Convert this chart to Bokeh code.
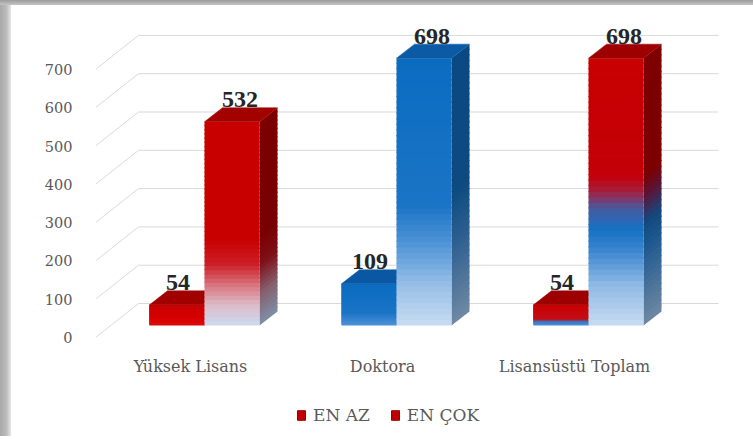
import numpy as np
from bokeh.plotting import figure
from bokeh.layouts import column, row
from bokeh.models import Range1d, FixedTicker, Legend, LegendItem, Div
from bokeh.embed import file_html
from bokeh.resources import INLINE
from bokeh.core.properties import value

# ---------------- data ----------------
categories = ["Yüksek Lisans", "Doktora", "Lisansüstü Toplam"]
series_names = ["EN AZ", "EN ÇOK"]
en_az = [54, 109, 54]
en_cok = [532, 698, 698]
y_ticks = [0, 100, 200, 300, 400, 500, 600, 700]

# ---------------- geometry (pixels) ----------------
TOTAL_W, TOTAL_H = 753, 436
OX, OY = 11, 5                 # gray page band left / top
W = TOTAL_W - OX
H_MAIN = 380
H_LEG = TOTAL_H - OY - H_MAIN
PX_PER_VAL = 0.383
PX_PER_CAT = 192.0
ZERO_X, ZERO_Y = 190.0 - OX, 337.0 - OY   # canvas px of category 0 / value 0 on label plane
FL, FR, FT, FB = 95 - OX, 745 - OX, 0, 345 - OY

def dx(px):
    return px / PX_PER_CAT

def dy(px):
    return px / PX_PER_VAL

FRONT_DX, FRONT_DY = dx(14), dy(12)   # bar front plane offset from label plane
DEPTH_DX, DEPTH_DY = dx(18), dy(14)   # bar depth
BACK_DX, BACK_DY = dx(43), dy(34)     # back wall offset
BW = dx(55)                            # bar width
WALL_L = (FL - ZERO_X) / PX_PER_CAT
WALL_R = WALL_L + dx(580)

x_range = Range1d((FL - ZERO_X) / PX_PER_CAT, (FR - ZERO_X) / PX_PER_CAT)
y_range = Range1d((ZERO_Y - FB) / PX_PER_VAL, (ZERO_Y - FT) / PX_PER_VAL)

p_main = figure(width=W, height=H_MAIN, x_range=x_range, y_range=y_range,
                min_border_left=FL, min_border_right=W - FR, min_border_top=FT,
                min_border_bottom=H_MAIN - FB, output_backend="svg", toolbar_location=None)
p_main.background_fill_color = "white"
p_main.border_fill_color = "white"
p_main.outline_line_color = None
p_main.xgrid.visible = False
p_main.ygrid.visible = False

# ---------------- axes ----------------
p_main.yaxis.ticker = FixedTicker(ticks=y_ticks)
p_main.yaxis.axis_line_color = None
p_main.yaxis.major_tick_line_color = None
p_main.yaxis.minor_tick_line_color = None
p_main.yaxis.major_label_standoff = 17
p_main.yaxis.major_label_text_font = "DejaVu Serif"
p_main.yaxis.major_label_text_font_size = "14.5px"
p_main.yaxis.major_label_text_color = "#595959"

p_main.xaxis.ticker = FixedTicker(ticks=list(range(len(categories))))
p_main.xaxis.major_label_overrides = {i: c for i, c in enumerate(categories)}
p_main.xaxis.axis_line_color = None
p_main.xaxis.major_tick_line_color = None
p_main.xaxis.minor_tick_line_color = None
p_main.xaxis.major_label_standoff = 5
p_main.xaxis.major_label_text_font = "DejaVu Serif"
p_main.xaxis.major_label_text_font_size = "16px"
p_main.xaxis.major_label_text_color = "#595959"

# ---------------- walls / gridlines ----------------
gx0, gy0, gx1, gy1 = [], [], [], []
for v in y_ticks:
    gx0.append(WALL_L); gy0.append(v); gx1.append(WALL_L + BACK_DX); gy1.append(v + BACK_DY)
    gx0.append(WALL_L + BACK_DX); gy0.append(v + BACK_DY); gx1.append(WALL_R + BACK_DX); gy1.append(v + BACK_DY)
p_main.segment(x0=gx0, y0=gy0, x1=gx1, y1=gy1, line_color="#d9d9d9", line_width=1)

# ---------------- colour helpers ----------------
def hex2rgb(h):
    h = h.lstrip("#")
    return np.array([int(h[i:i + 2], 16) for i in (0, 2, 4)], dtype=float)

def grad(stops, t):
    pos = [s[0] for s in stops]
    cols = [hex2rgb(s[1]) for s in stops]
    c = cols[-1]
    if t <= pos[0]:
        c = cols[0]
    else:
        for k in range(len(pos) - 1):
            if pos[k] <= t <= pos[k + 1]:
                f = (t - pos[k]) / (pos[k + 1] - pos[k])
                c = cols[k] * (1 - f) + cols[k + 1] * f
                break
    return "#%02x%02x%02x" % tuple(int(round(x)) for x in c)

RED_AZ = dict(front=[(0, "#dc0a0a"), (0.5, "#d40000"), (1, "#c80000")],
              side=[(0, "#800000"), (1, "#800000")], top="#a00000")
RED_COK = dict(front=[(0, "#cddaef"), (0.1, "#dcbcc8"), (0.2, "#d8727c"), (0.3, "#cc1f27"),
                      (0.42, "#c80000"), (1, "#c80000")],
               side=[(0, "#7d8fa6"), (0.15, "#85606f"), (0.3, "#7e1018"), (0.45, "#780000"), (1, "#7c0000")],
               top="#a30000")
BLUE_AZ = dict(front=[(0, "#4f92d7"), (0.3, "#1a74c6"), (1, "#0b6cc0")],
               side=[(0, "#0a4a85"), (1, "#0a4a85")], top="#0a58a3")
BLUE_COK = dict(front=[(0, "#c8dcf1"), (0.15, "#98bfe7"), (0.3, "#5196d6"), (0.45, "#1b74c6"), (1, "#0a6cc0")],
                side=[(0, "#7089a4"), (0.3, "#2d6090"), (0.5, "#0d4a80"), (1, "#0b4983")],
                top="#0a5aa5")
MIX_AZ = dict(front=[(0, "#4a8fd4"), (0.18, "#3878c4"), (0.3, "#c0101a"), (1, "#cc0000")],
              side=[(0, "#800000"), (1, "#800000")], top="#9c0000")
MIX_COK = dict(front=[(0, "#c8dcf1"), (0.15, "#8fbae5"), (0.28, "#3c86cf"), (0.36, "#1571c4"),
                      (0.44, "#4a5a9e"), (0.5, "#a3203e"), (0.56, "#c40008"), (1, "#c80000")],
               side=[(0, "#6f88a3"), (0.28, "#1f5a90"), (0.38, "#124a80"), (0.48, "#5a1538"),
                     (0.56, "#7c0000"), (1, "#7e0000")],
               top="#9e0000")
styles = [(RED_AZ, RED_COK), (BLUE_AZ, BLUE_COK), (MIX_AZ, MIX_COK)]

# ---------------- bars ----------------
N = 48
OVER = dy(1.2)   # slice overlap to avoid seams
label_x, label_y, label_t = [], [], []
for i in range(len(categories)):
    base = i + FRONT_DX
    for s, (vals, left, lab_off) in enumerate([(en_az, base - BW, dx(1)), (en_cok, base, dx(8))]):
        v = vals[i]
        st = styles[i][s]
        xl, xr = left, left + BW
        top = FRONT_DY + v
        fb, ftp, fc = [], [], []
        sxs, sys_, sc = [], [], []
        for k in range(N):
            y0 = FRONT_DY + v * k / N
            y1 = min(FRONT_DY + v * (k + 1) / N + OVER, top)
            t = (k + 0.5) / N
            fb.append(y0); ftp.append(y1); fc.append(grad(st["front"], t))
            sxs.append([xr, xr + DEPTH_DX, xr + DEPTH_DX, xr])
            sys_.append([y0, y0 + DEPTH_DY, y1 + DEPTH_DY, y1])
            sc.append(grad(st["side"], t))
        p_main.patches(xs=sxs, ys=sys_, fill_color=sc, line_color=None)
        p_main.quad(left=[xl] * N, right=[xr] * N, bottom=fb, top=ftp, fill_color=fc,
                    line_color=None)
        p_main.patch(x=[xl, xl + DEPTH_DX, xr + DEPTH_DX, xr], y=[top, top + DEPTH_DY, top + DEPTH_DY, top],
                     fill_color=st["top"], line_color=st["top"], line_width=0.5)
        label_x.append(xl + BW / 2 + lab_off)
        label_y.append(top + DEPTH_DY + dy(8))
        label_t.append(str(v))

p_main.text(x=label_x, y=label_y, text=label_t,
            text_font=value("Liberation Serif, Times New Roman, DejaVu Serif, serif"),
            text_font_style="bold", text_font_size="24px", text_color="#262626",
            text_align="center", text_baseline="alphabetic")

# ---------------- legend (separate strip; its frame aligns with the main frame) ----------------
p_leg = figure(width=W, height=H_LEG, x_range=Range1d(0, 1), y_range=Range1d(0, 1),
               min_border=0, x_axis_location=None, y_axis_location=None,
               output_backend="svg", toolbar_location=None)
p_leg.outline_line_color = None
p_leg.xgrid.visible = False
p_leg.ygrid.visible = False
p_leg.background_fill_color = "white"
p_leg.border_fill_color = "white"
# legend-only renderers, placed outside the visible range
leg_r1 = p_leg.quad(left=[5], right=[6], bottom=[5], top=[6], fill_color="#c00000", line_color="#9a0000")
leg_r2 = p_leg.quad(left=[5], right=[6], bottom=[5], top=[6], fill_color="#c00000", line_color="#9a0000")
legend = Legend(items=[LegendItem(label=series_names[0], renderers=[leg_r1]),
                       LegendItem(label=series_names[1], renderers=[leg_r2])],
                orientation="horizontal", location=(296 - 95, 11))
legend.glyph_width = 10
legend.glyph_height = 12
legend.label_height = 18
legend.label_standoff = 7
legend.spacing = 20
legend.padding = 4
legend.margin = 0
legend.border_line_color = None
legend.background_fill_alpha = 0
legend.label_text_font = "DejaVu Serif"
legend.label_text_font_size = "17px"
legend.label_text_color = "#595959"
p_leg.add_layout(legend, "center")

# ---------------- page bands (document shadow) ----------------
band_top = Div(text="", width=TOTAL_W, height=OY, margin=0,
               styles={"background": "linear-gradient(to bottom, #9c9c9c, #c4c4c4)"})
band_left = Div(text="", width=OX, height=TOTAL_H - OY, margin=0,
                styles={"background": "linear-gradient(to right, #a8a8a8, #bdbdbd 60%, #e6e6e6)"})

p = column(band_top, row(band_left, column(p_main, p_leg, spacing=0), spacing=0), spacing=0)

open("out.html", "w").write(file_html(p, INLINE))
